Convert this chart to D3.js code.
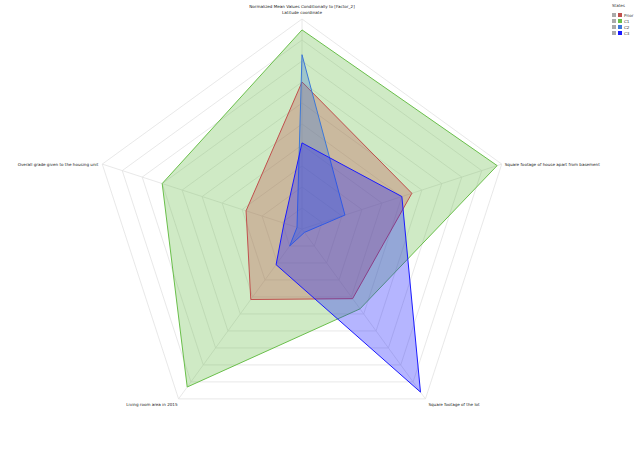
<!DOCTYPE html>
<html>
<head>
<meta charset="utf-8">
<script src="https://cdn.jsdelivr.net/npm/d3@7"></script>
<style>
  body { margin: 0; background: #fff; }
  svg { display: block; font-family: "DejaVu Sans", sans-serif; }
</style>
</head>
<body>
<div id="chart"></div>
<script>
// axes, clockwise from the top
const axes = [
  'Latitude coordinate',
  'Square footage of house apart from basement',
  'Square footage of the lot',
  'Living room area in 2015',
  'Overall grade given to the housing unit'
];
const seriesNames = ['Prior', 'C1', 'C2', 'C3'];
const prior = [0.70, 0.55, 0.41, 0.415, 0.28];
const c1 = [0.948, 0.977, 0.47, 0.93, 0.70];
const c2 = [0.83, 0.215, 0.02, 0.10, 0.025];
const c3 = [0.41, 0.50, 0.96, 0.21, 0.09];
const colors = ['#c0504d', '#6abf4b', '#3c78d8', '#1a1aff'];

const width = 640, height = 460;
const cx = 302, cy = 229, R = 210;
const levels = d3.range(1, 11).map(d => d / 10);

const svg = d3.select('#chart').append('svg')
  .attr('width', width)
  .attr('height', height);

const angle = d3.scaleLinear().domain([0, axes.length]).range([0, 2 * Math.PI]);
const r = d3.scaleLinear().domain([0, 1]).range([0, R]);

function pt(i, v) {
  const a = angle(i);
  return [cx + r(v) * Math.sin(a), cy - r(v) * Math.cos(a)];
}

// grid
const grid = svg.append('g');
levels.forEach(l => {
  grid.append('polygon')
    .attr('points', axes.map((_, i) => pt(i, l).join(',')).join(' '))
    .attr('fill', 'none')
    .attr('stroke', '#e2e2e2')
    .attr('stroke-width', 0.8);
});
axes.forEach((_, i) => {
  const p = pt(i, 1);
  grid.append('line')
    .attr('x1', cx).attr('y1', cy)
    .attr('x2', p[0]).attr('y2', p[1])
    .attr('stroke', '#e2e2e2')
    .attr('stroke-width', 0.8);
});

// series (C1 drawn first, it is the biggest)
const order = [[c1, 1], [prior, 0], [c2, 2], [c3, 3]];
order.forEach(([vals, k]) => {
  svg.append('polygon')
    .attr('points', vals.map((v, i) => pt(i, v).join(',')).join(' '))
    .attr('fill', colors[k])
    .attr('fill-opacity', 0.32)
    .attr('stroke', colors[k])
    .attr('stroke-width', 1);
});

// axis labels
const fs = 4.1;
const labelPos = [
  { dx: 0, dy: -5, anchor: 'middle' },
  { dx: 3, dy: 1.5, anchor: 'start' },
  { dx: 3, dy: 7, anchor: 'start' },
  { dx: -1, dy: 7, anchor: 'end' },
  { dx: -4, dy: 1.5, anchor: 'end' }
];
axes.forEach((name, i) => {
  const p = pt(i, 1);
  svg.append('text')
    .attr('x', p[0] + labelPos[i].dx)
    .attr('y', p[1] + labelPos[i].dy)
    .attr('text-anchor', labelPos[i].anchor)
    .attr('font-size', fs)
    .attr('fill', '#222')
    .text(name);
});

// title
svg.append('text')
  .attr('x', cx)
  .attr('y', 8)
  .attr('text-anchor', 'middle')
  .attr('font-size', fs)
  .attr('fill', '#222')
  .text('Normalized Mean Values Conditionally to [Factor_2]');

// legend
const lg = svg.append('g').attr('transform', 'translate(611,0)');
lg.append('text').attr('x', 1).attr('y', 7).attr('font-size', fs).attr('fill', '#333').text('States');
seriesNames.forEach((s, i) => {
  const y = 13 + i * 6;
  lg.append('rect').attr('x', 1).attr('y', y).attr('width', 4).attr('height', 4).attr('fill', '#aaa');
  lg.append('rect').attr('x', 7).attr('y', y).attr('width', 4).attr('height', 4).attr('fill', colors[i]);
  lg.append('text').attr('x', 13).attr('y', y + 3.6).attr('font-size', fs).attr('fill', '#333').text(s);
});
</script>
</body>
</html>
